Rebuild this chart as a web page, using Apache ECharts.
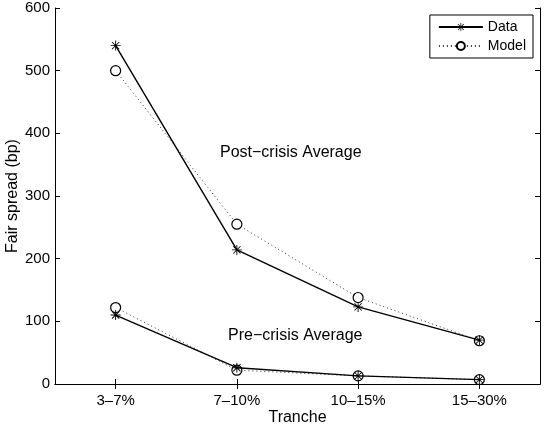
<!DOCTYPE html>
<html>
<head>
<meta charset="utf-8">
<script src="https://cdn.jsdelivr.net/npm/echarts@6/dist/echarts.min.js"></script>
<style>
    html, body { margin: 0; padding: 0; background: #fff; }
    #chart { width: 549px; height: 434px; }
</style>
</head>
<body>
<div id="chart"></div>
<script>
    // tranches on the x axis
    const tranches = ['3\u20137%', '7\u201310%', '10\u201315%', '15\u201330%'];
    // post-crisis averages (bp)
    const postData = [540, 214, 123, 70];
    const postModel = [500, 255, 138, 69];
    // pre-crisis averages (bp)
    const preData = [110, 26, 13, 7];
    const preModel = [122, 22, 13, 7];
    const yTicks = [0, 100, 200, 300, 400, 500, 600];

    const font = 'Liberation Sans, Arial, Helvetica, sans-serif';

    // matlab style asterisk marker
    const star = 'path://M-0.9,-10 L0.9,-10 L0.9,10 L-0.9,10 Z ' +
        'M-10,-0.9 L10,-0.9 L10,0.9 L-10,0.9 Z ' +
        'M-7.9,-6.6 L-6.6,-7.9 L7.9,6.6 L6.6,7.9 Z ' +
        'M6.6,-7.9 L7.9,-6.6 L-6.6,7.9 L-7.9,6.6 Z';

    let chart = echarts.init(document.getElementById('chart'));

    function dataSeries(values) {
        return {
            name: 'Data',
            type: 'line',
            data: values,
            symbol: star,
            symbolSize: 10,
            itemStyle: { color: '#000' },
            lineStyle: { color: '#000', width: 1.4, type: 'solid' },
            z: 3
        };
    }
    function modelSeries(values) {
        return {
            name: 'Model',
            type: 'line',
            data: values,
            symbol: 'circle',
            symbolSize: 10,
            itemStyle: { color: '#fff', borderColor: '#000', borderWidth: 1.2 },
            lineStyle: { color: '#333', width: 1, type: [1, 3] },
            z: 2
        };
    }

    const tickStyle = { show: true, inside: true, length: 5, lineStyle: { color: '#000' } };

    let option = {
        animation: false,
        backgroundColor: '#fff',
        textStyle: { fontFamily: font },
        grid: { left: 55, right: 9, top: 8, bottom: 50, outerBoundsMode: 'none', containLabel: false },
        legend: {
            data: ['Data', 'Model'],
            orient: 'vertical',
            right: 16,
            top: 15,
            itemWidth: 44,
            itemHeight: 10,
            itemGap: 5,
            padding: [5, 7, 5, 8],
            borderColor: '#000',
            borderWidth: 1,
            backgroundColor: '#fff',
            textStyle: { fontFamily: font, fontSize: 14, color: '#000' }
        },
        xAxis: [{
            type: 'category',
            data: tranches,
            boundaryGap: true,
            name: 'Tranche',
            nameLocation: 'middle',
            nameGap: 26,
            nameMoveOverlap: false,
            nameTextStyle: { fontFamily: font, fontSize: 16, color: '#000' },
            axisLine: { lineStyle: { color: '#000' } },
            axisTick: Object.assign({ alignWithLabel: true }, tickStyle),
            axisLabel: { color: '#000', fontSize: 15, margin: 9, fontFamily: font },
            splitLine: { show: false }
        }, {
            type: 'category',
            data: tranches,
            position: 'top',
            boundaryGap: true,
            axisLine: { show: true, lineStyle: { color: '#000' } },
            axisTick: Object.assign({ alignWithLabel: true }, tickStyle),
            axisLabel: { show: false },
            splitLine: { show: false }
        }],
        yAxis: [{
            type: 'value',
            min: yTicks[0],
            max: yTicks[yTicks.length - 1],
            interval: 100,
            name: 'Fair spread (bp)',
            nameLocation: 'middle',
            nameGap: 34,
            nameMoveOverlap: false,
            nameTextStyle: { fontFamily: font, fontSize: 16, color: '#000' },
            axisLine: { show: true, lineStyle: { color: '#000' } },
            axisTick: tickStyle,
            axisLabel: { color: '#000', fontSize: 15, margin: 5, fontFamily: font },
            splitLine: { show: false }
        }, {
            type: 'value',
            position: 'right',
            min: yTicks[0],
            max: yTicks[yTicks.length - 1],
            interval: 100,
            axisLine: { show: true, lineStyle: { color: '#000' } },
            axisTick: tickStyle,
            axisLabel: { show: false },
            splitLine: { show: false }
        }],
        graphic: [{
            type: 'text',
            left: 220,
            top: 145,
            style: { text: 'Post\u2212crisis Average', fontFamily: font, fontSize: 16, fill: '#000' }
        }, {
            type: 'text',
            left: 228,
            top: 328,
            style: { text: 'Pre\u2212crisis Average', fontFamily: font, fontSize: 16, fill: '#000' }
        }],
        series: [
            dataSeries(postData),
            modelSeries(postModel),
            dataSeries(preData),
            modelSeries(preModel)
        ]
    };

    chart.setOption(option);
</script>
</body>
</html>
